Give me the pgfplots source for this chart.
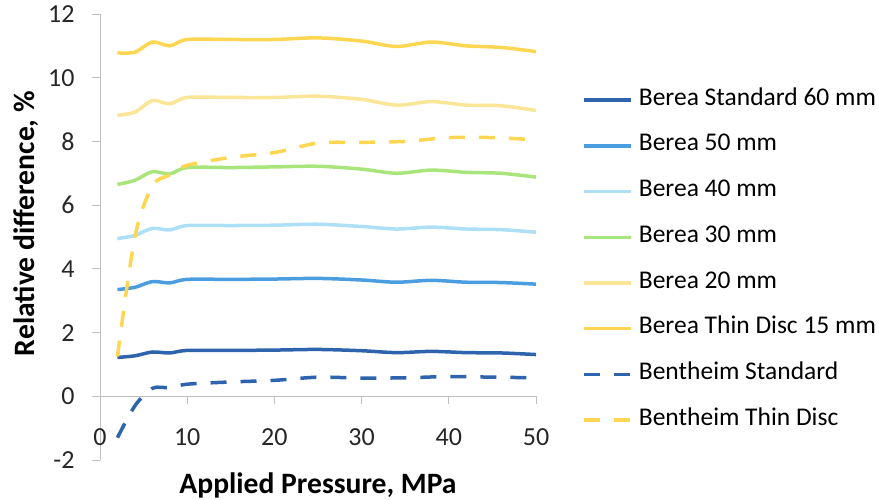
\documentclass[border=0pt]{standalone}
\usepackage{fontspec}
\setmainfont{Carlito}
\usepackage{pgfplots}
\pgfplotsset{compat=1.18}
\definecolor{stdblue}{HTML}{2E64AE}
\definecolor{midblue}{HTML}{4A9DDE}
\definecolor{ltblue}{HTML}{ADDFF6}
\definecolor{ltgreen}{HTML}{A8E67C}
\definecolor{ltyellow}{HTML}{FBE596}
\definecolor{gold}{HTML}{FFD651}
\definecolor{axgray}{HTML}{BFBFBF}
\begin{document}
\begin{tikzpicture}
\path[use as bounding box] (0,0) rectangle (879pt,500pt);
\begin{axis}[
  at={(100pt,40pt)}, anchor=south west,
  scale only axis, width=436pt, height=446pt,
  xmin=0, xmax=50, ymin=-2, ymax=12,
  axis x line*=middle, axis y line*=left,
  hide obscured x ticks=false,
  axis line style={axgray, line width=0.8pt},
  xtick={0,10,...,50}, ytick={-2,0,...,12},
  tick style={axgray, line width=0.8pt},
  major tick length=8pt, tick align=outside,
  /pgf/number format/assume math mode=true,
  ticklabel style={font=\fontsize{26}{30}\selectfont, text=black!85},
  xticklabel style={yshift=-21pt},
  yticklabel style={xshift=-14pt},
  every axis y label/.style={at={(axis description cs:-0.169,0.530)}, rotate=90, anchor=center},
  every axis x label/.style={at={(axis description cs:0.5,-0.056)}, anchor=center},
  label style={font=\fontsize{29.6}{34}\selectfont\bfseries},
  xlabel={Applied Pressure, MPa},
  ylabel={Relative difference, \%},
  clip=false,
  legend cell align=left,
  legend image code/.code={\draw[#1] (0pt,0pt) -- (47pt,0pt);},
  legend style={at={(1.106,0.448)}, anchor=west, draw=none, fill=none,
    font=\fontsize{25.5}{30}\selectfont, inner sep=0pt, row sep=27.7pt,
    nodes={inner sep=0pt, text height=14pt, text depth=4pt},
    /tikz/every odd column/.style={column sep=6pt}},
  every axis plot/.append style={line width=3.5pt, smooth, tension=0.5},
]
\addplot[stdblue] coordinates {
(2,1.22) (4,1.27) (6,1.39) (8,1.36) (10,1.44) (15,1.44) (20,1.45) (25,1.47)
(30,1.43) (34,1.37) (38,1.41) (42,1.37) (46,1.36) (50,1.31)};
\addplot[midblue] coordinates {
(2,3.35) (4,3.42) (6,3.60) (8,3.56) (10,3.67) (15,3.67) (20,3.68) (25,3.70)
(30,3.65) (34,3.58) (38,3.64) (42,3.58) (46,3.57) (50,3.52)};
\addplot[ltblue] coordinates {
(2,4.95) (4,5.05) (6,5.27) (8,5.22) (10,5.36) (15,5.36) (20,5.37) (25,5.40)
(30,5.33) (34,5.25) (38,5.31) (42,5.25) (46,5.23) (50,5.15)};
\addplot[ltgreen] coordinates {
(2,6.65) (4,6.78) (6,7.05) (8,6.98) (10,7.18) (15,7.18) (20,7.20) (25,7.22)
(30,7.13) (34,7.00) (38,7.10) (42,7.03) (46,7.00) (50,6.88)};
\addplot[ltyellow] coordinates {
(2,8.82) (4,8.92) (6,9.28) (8,9.18) (10,9.38) (15,9.38) (20,9.38) (25,9.42)
(30,9.32) (34,9.14) (38,9.25) (42,9.14) (46,9.12) (50,8.97)};
\addplot[gold] coordinates {
(2,10.78) (4,10.80) (6,11.12) (8,11.00) (10,11.20) (15,11.20) (20,11.20) (25,11.25)
(30,11.15) (34,10.98) (38,11.12) (42,11.00) (46,10.95) (50,10.82)};
\addplot[stdblue, dash pattern=on 16pt off 14pt] coordinates {
(2,-1.30) (4,-0.30) (6,0.25) (8,0.27) (10,0.38) (15,0.45) (20,0.50) (25,0.60)
(30,0.57) (35,0.58) (40,0.62) (45,0.60) (50,0.58)};
\addplot[gold, dash pattern=on 16pt off 14pt] coordinates {
(2,1.25) (4,5.00) (6,6.60) (8,6.95) (10,7.25) (15,7.50) (20,7.65) (25,7.95)
(30,7.97) (35,8.00) (40,8.12) (45,8.12) (50,8.05)};
\legend{Berea Standard 60 mm, Berea 50 mm, Berea 40 mm, Berea 30 mm, Berea 20 mm,
  Berea Thin Disc 15 mm, Bentheim Standard, Bentheim Thin Disc}
\end{axis}
\end{tikzpicture}
\end{document}
